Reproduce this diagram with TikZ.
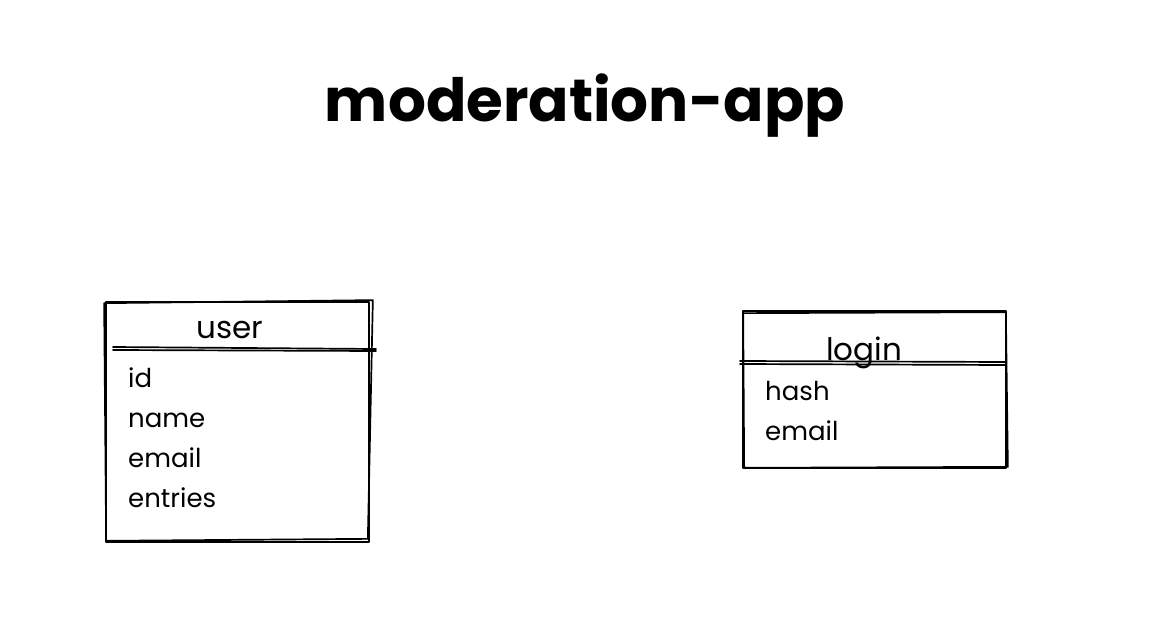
\documentclass[tikz,border=0pt]{standalone}
\usepackage{fontspec}
\setmainfont{Poppins}
\begin{document}
\begin{tikzpicture}[x=1pt,y=-1pt,
  sketch/.style={line width=1.7pt, line cap=round, line join=round},
  tablebox/.style={draw, sketch, rectangle, inner sep=0pt},
  heading/.style={font=\fontsize{31}{36}\selectfont, anchor=base, inner sep=0pt},
  field/.style={font=\fontsize{26}{30}\selectfont, anchor=base west, inner sep=0pt},
]
\useasboundingbox (0,0) rectangle (1150,636);

% title
\node[anchor=base, inner sep=0pt] (title) at (585,122)
  {\resizebox{520pt}{!}{\bfseries moderation-app}};

% user table
\node[tablebox, minimum width=263, minimum height=240] (user) at (237.5,422) {};
\draw[sketch] ([shift={(-1,2)}]user.north west) -- ([shift={(3,-1)}]user.north east)
  -- ([shift={(-2,-4)}]user.south east) -- ([shift={(1,-2)}]user.south west) -- cycle;
\coordinate (userL) at (113,350);
\coordinate (userR) at (376,351);
\draw[sketch] (userL) -- (userR);
\draw[sketch] ([yshift=3]userL) -- ([yshift=2]userR);
\node[heading] (userhead) at (230,338) {user};
\node[field] (uid)   at (128,387) {id};
\node[field] (uname) at (128,427) {name};
\node[field] (umail) at (128,467) {email};
\node[field] (uent)  at (128,507) {entries};

% login table
\node[tablebox, minimum width=263, minimum height=157] (login) at (874.5,389.5) {};
\draw[sketch] ([shift={(1,3)}]login.north west) -- ([shift={(-1,2)}]login.north east)
  -- ([shift={(1,-2)}]login.south east) -- ([shift={(2,-1)}]login.south west) -- cycle;
\coordinate (loginL) at (740,364);
\coordinate (loginR) at (1006,365);
\draw[sketch] (loginL) -- (loginR);
\draw[sketch] ([yshift=3]loginL) -- ([yshift=3]loginR);
\node[heading] (loginhead) at (864,360) {login};
\node[field] (lhash) at (765,400) {hash};
\node[field] (lmail) at (765,440) {email};
\end{tikzpicture}
\end{document}
